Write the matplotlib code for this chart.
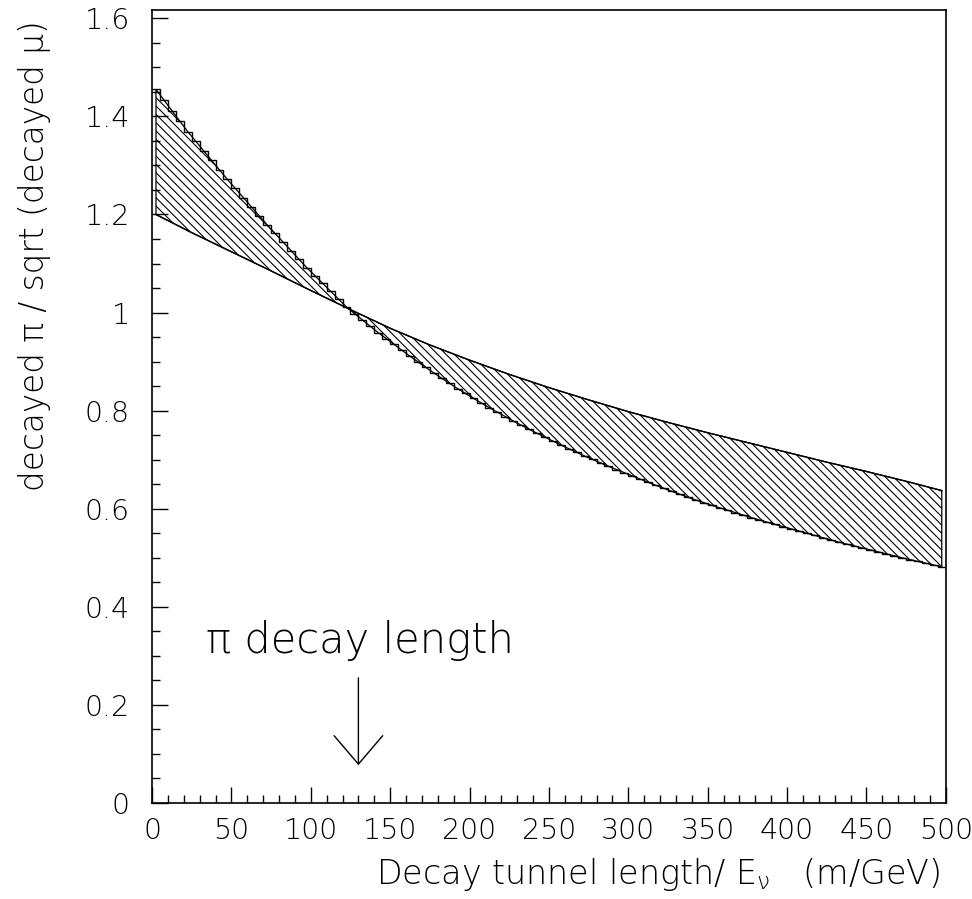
import matplotlib
matplotlib.use('Agg')
import matplotlib.pyplot as plt
import numpy as np

# bin edges of the simulated ratio histogram (m/GeV)
bin_edges = np.arange(0, 505, 5)
# histogram contents, one per 5 m/GeV bin
hist_vals = [
    1.455, 1.4335, 1.412, 1.3905, 1.369, 1.3495, 1.330, 1.3105, 1.291, 1.2715,
    1.253, 1.2345, 1.216, 1.1975, 1.179, 1.1615, 1.144, 1.1265, 1.109, 1.0915,
    1.0755, 1.0595, 1.0435, 1.0275, 1.0115, 0.998, 0.985, 0.972, 0.959, 0.947,
    0.935, 0.923, 0.911, 0.8995, 0.888, 0.877, 0.866, 0.8555, 0.845, 0.835,
    0.825, 0.8155, 0.806, 0.797, 0.788, 0.779, 0.7705, 0.762, 0.754, 0.746,
    0.738, 0.730, 0.7225, 0.715, 0.7075, 0.7005, 0.6935, 0.6865, 0.680, 0.6735,
    0.667, 0.6605, 0.654, 0.6475, 0.6415, 0.6355, 0.6295, 0.6235, 0.618, 0.6125,
    0.607, 0.602, 0.597, 0.592, 0.587, 0.582, 0.577, 0.5725, 0.568, 0.5635,
    0.559, 0.5545, 0.550, 0.5455, 0.541, 0.5365, 0.532, 0.528, 0.524, 0.520,
    0.516, 0.512, 0.508, 0.504, 0.500, 0.4962, 0.4925, 0.4888, 0.4852, 0.4816,
]
# analytic curve
curve_x = [2.5, 25, 50, 75, 100, 125, 150, 175, 200, 225, 250,
           275, 300, 325, 350, 375, 400, 425, 450, 475, 497.5]
curve_y = [1.200, 1.163, 1.124, 1.085, 1.045, 1.006, 0.968, 0.934, 0.903,
           0.874, 0.847, 0.822, 0.798, 0.776, 0.755, 0.735, 0.715, 0.695,
           0.676, 0.656, 0.637]

x_ticks = [0, 50, 100, 150, 200, 250, 300, 350, 400, 450, 500]
x_ticklabels = ['0', '50', '100', '150', '200', '250', '300', '350', '400', '450', '500']
y_ticks = [0, 0.2, 0.4, 0.6, 0.8, 1.0, 1.2, 1.4, 1.6]
y_ticklabels = ['0', '0.2', '0.4', '0.6', '0.8', '1', '1.2', '1.4', '1.6']
decay_length = 130

plt.rcParams['font.family'] = ['DejaVu Sans']
plt.rcParams['font.weight'] = 'light'
plt.rcParams['hatch.linewidth'] = 0.8
plt.rcParams['mathtext.fontset'] = 'custom'
plt.rcParams['mathtext.rm'] = 'DejaVu Sans:light'
plt.rcParams['mathtext.it'] = 'DejaVu Sans:light'

fig = plt.figure(figsize=(9.72, 8.99), dpi=100)
ax = fig.add_axes([0.1564, 0.1068, 0.973 - 0.1564, 0.9889 - 0.1068])

centers = 0.5 * (bin_edges[:-1] + bin_edges[1:])
# hatched band between histogram (bin centres) and curve
poly_x = np.concatenate([centers, curve_x[::-1]])
poly_y = np.concatenate([hist_vals, curve_y[::-1]])
ax.fill(poly_x, poly_y, facecolor='none', edgecolor='black', hatch='\\\\\\\\',
        lw=0.9)
ax.stairs(hist_vals, bin_edges, baseline=None, color='black', lw=1.0)
ax.plot(curve_x, curve_y, color='black', lw=1.0)

# arrow marking the pion decay length
ax.annotate('', xy=(decay_length, 0.077), xytext=(decay_length, 0.255),
            arrowprops=dict(arrowstyle='->, head_length=2.05, head_width=1.75',
                            color='black', lw=1.0, shrinkA=0, shrinkB=0))
ax.text(34, 0.305, 'π decay length', fontsize=30,
        ha='left', va='baseline', color='black')

ax.set_xlim(0, 500)
ax.set_ylim(0, 1.617)
ax.set_xticks(x_ticks)
ax.set_xticklabels(x_ticklabels)
ax.set_yticks(y_ticks)
ax.set_yticklabels(y_ticklabels)
ax.set_xticks(np.arange(0, 501, 10), minor=True)
ax.set_yticks(np.arange(0, 1.601, 0.05), minor=True)
ax.tick_params(which='both', direction='in', top=False, right=False,
               labelsize=20.5, width=1.0, colors='black')
ax.tick_params(axis='x', which='major', length=11.5, pad=10)
ax.tick_params(axis='x', which='minor', length=5.8)
ax.tick_params(axis='y', which='major', length=11.5, pad=16)
ax.tick_params(axis='y', which='minor', length=5.8)
for s in ax.spines.values():
    s.set_linewidth(1.2)

fig.text(0.967, 0.017, r'Decay tunnel length/ E$_\nu$   (m/GeV)', fontsize=24,
         ha='right', va='baseline', color='black')
fig.text(0.036, 0.978, 'decayed π / sqrt (decayed μ)', fontsize=23.5,
         ha='center', va='top', rotation=90, color='black')

fig.savefig('out.png', dpi=100)
